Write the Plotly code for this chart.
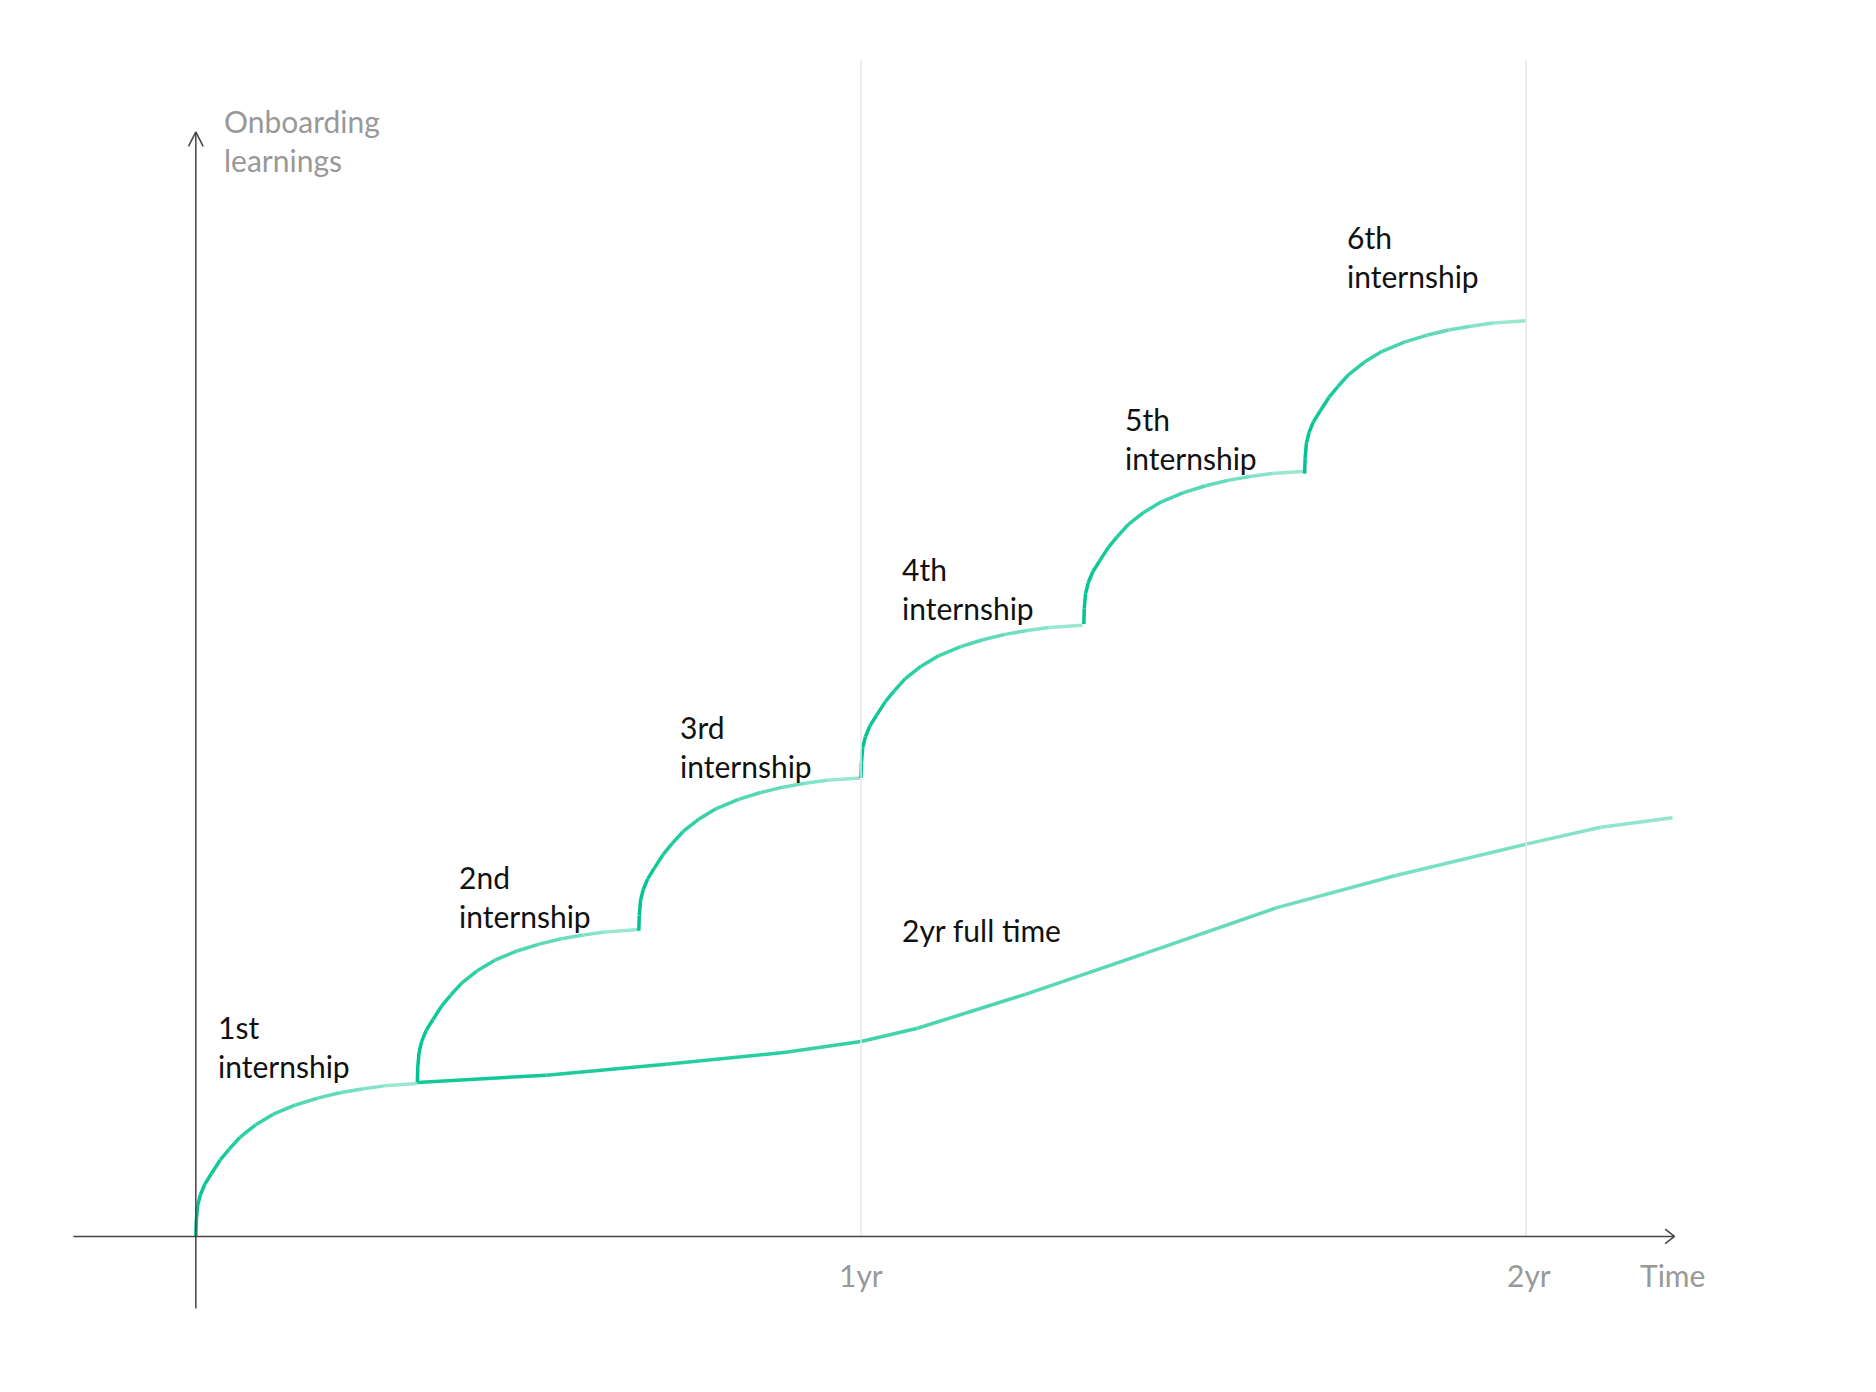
import plotly.graph_objects as go

# reference geometry measured on the picture; x in years, y in arbitrary "learning" units
seg_starts = [0.0, 0.333, 0.666, 1.0, 1.335, 1.667]
seg_bases = [0.0, 1.28, 2.54, 3.81, 5.09, 6.34]
seg_len = 0.333
seg_rise = 1.27
# shape of one internship curve (fraction of length -> fraction of rise)
shape_t = [0.0, 0.002, 0.008, 0.02, 0.04, 0.07, 0.11, 0.15, 0.2, 0.27, 0.35,
           0.45, 0.55, 0.65, 0.75, 0.85, 1.0]
shape_h = [0.0, 0.1, 0.2, 0.27, 0.34, 0.41, 0.5, 0.57, 0.65, 0.73, 0.8,
           0.86, 0.905, 0.94, 0.965, 0.985, 1.0]

ft_x = [0.333, 0.527, 0.707, 0.887, 1.0, 1.085, 1.246, 1.426, 1.624, 1.804, 2.0, 2.112, 2.22]
ft_y = [1.28, 1.34, 1.43, 1.53, 1.62, 1.73, 2.01, 2.35, 2.73, 3.0, 3.26, 3.40, 3.48]

labels = ["1st<br>internship", "2nd<br>internship", "3rd<br>internship",
          "4th<br>internship", "5th<br>internship", "6th<br>internship"]
label_x = [0.031, 0.392, 0.725, 1.059, 1.394, 1.727]
label_y = [1.575, 2.825, 4.075, 5.385, 6.635, 8.145]

DARK = (0, 196, 145)
LIGHT = (175, 236, 218)


def mix(f):
    r, g, b = [round(DARK[i] + (LIGHT[i] - DARK[i]) * f) for i in range(3)]
    return f"rgb({r},{g},{b})"


fig = go.Figure()

for s, b in zip(seg_starts, seg_bases):
    xs = [s + t * seg_len for t in shape_t]
    ys = [b + h * seg_rise for h in shape_h]
    n = len(xs) - 1
    for i in range(n):
        fig.add_trace(go.Scatter(x=xs[i:i + 2], y=ys[i:i + 2], mode="lines",
                                 line=dict(color=mix((i / n) ** 2), width=3.5),
                                 hoverinfo="skip", showlegend=False))

n = len(ft_x) - 1
for i in range(n):
    fig.add_trace(go.Scatter(x=ft_x[i:i + 2], y=ft_y[i:i + 2], mode="lines",
                             line=dict(color=mix(0.1 + 0.8 * i / n), width=3.5),
                             hoverinfo="skip", showlegend=False))

axis_col = "#444"
shapes = [
    dict(type="line", x0=1, x1=1, y0=0, y1=9.78, line=dict(color="#e6e6e6", width=1.5)),
    dict(type="line", x0=2, x1=2, y0=0, y1=9.78, line=dict(color="#e6e6e6", width=1.5)),
    dict(type="line", x0=-0.184, x1=2.223, y0=0, y1=0, line=dict(color=axis_col, width=1.5)),
    dict(type="line", x0=0, x1=0, y0=-0.6, y1=9.18, line=dict(color=axis_col, width=1.5)),
    # arrow chevrons
    dict(type="line", x0=2.209, x1=2.223, y0=0.06, y1=0, line=dict(color=axis_col, width=1.5)),
    dict(type="line", x0=2.209, x1=2.223, y0=-0.06, y1=0, line=dict(color=axis_col, width=1.5)),
    dict(type="line", x0=-0.011, x1=0, y0=9.06, y1=9.18, line=dict(color=axis_col, width=1.5)),
    dict(type="line", x0=0.011, x1=0, y0=9.06, y1=9.18, line=dict(color=axis_col, width=1.5)),
]

ann = []
for t, x, y in zip(labels, label_x, label_y):
    ann.append(dict(x=x, y=y, text=t, showarrow=False, xanchor="left", yanchor="middle",
                    align="left", font=dict(size=30, color="#111")))
ann.append(dict(x=1.059, y=2.55, text="2yr full time", showarrow=False, xanchor="left",
                font=dict(size=30, color="#111")))
gray = dict(size=30, color="#999")
ann.append(dict(x=0.04, y=9.11, text="Onboarding<br>learnings", showarrow=False,
                xanchor="left", align="left", font=gray))
ann.append(dict(x=1.0, y=-0.32, text="1yr", showarrow=False, font=gray))
ann.append(dict(x=2.004, y=-0.32, text="2yr", showarrow=False, font=gray))
ann.append(dict(x=2.22, y=-0.32, text="Time", showarrow=False, font=gray))

fig.update_layout(
    width=1876, height=1392,
    margin=dict(l=0, r=0, t=0, b=0),
    paper_bgcolor="white", plot_bgcolor="white",
    font=dict(family="Lato"),
    xaxis=dict(range=[-0.2824, 2.538], visible=False),
    yaxis=dict(range=[-1.36, 10.21], visible=False),
    shapes=shapes, annotations=ann,
)

fig.write_html("out.html")
